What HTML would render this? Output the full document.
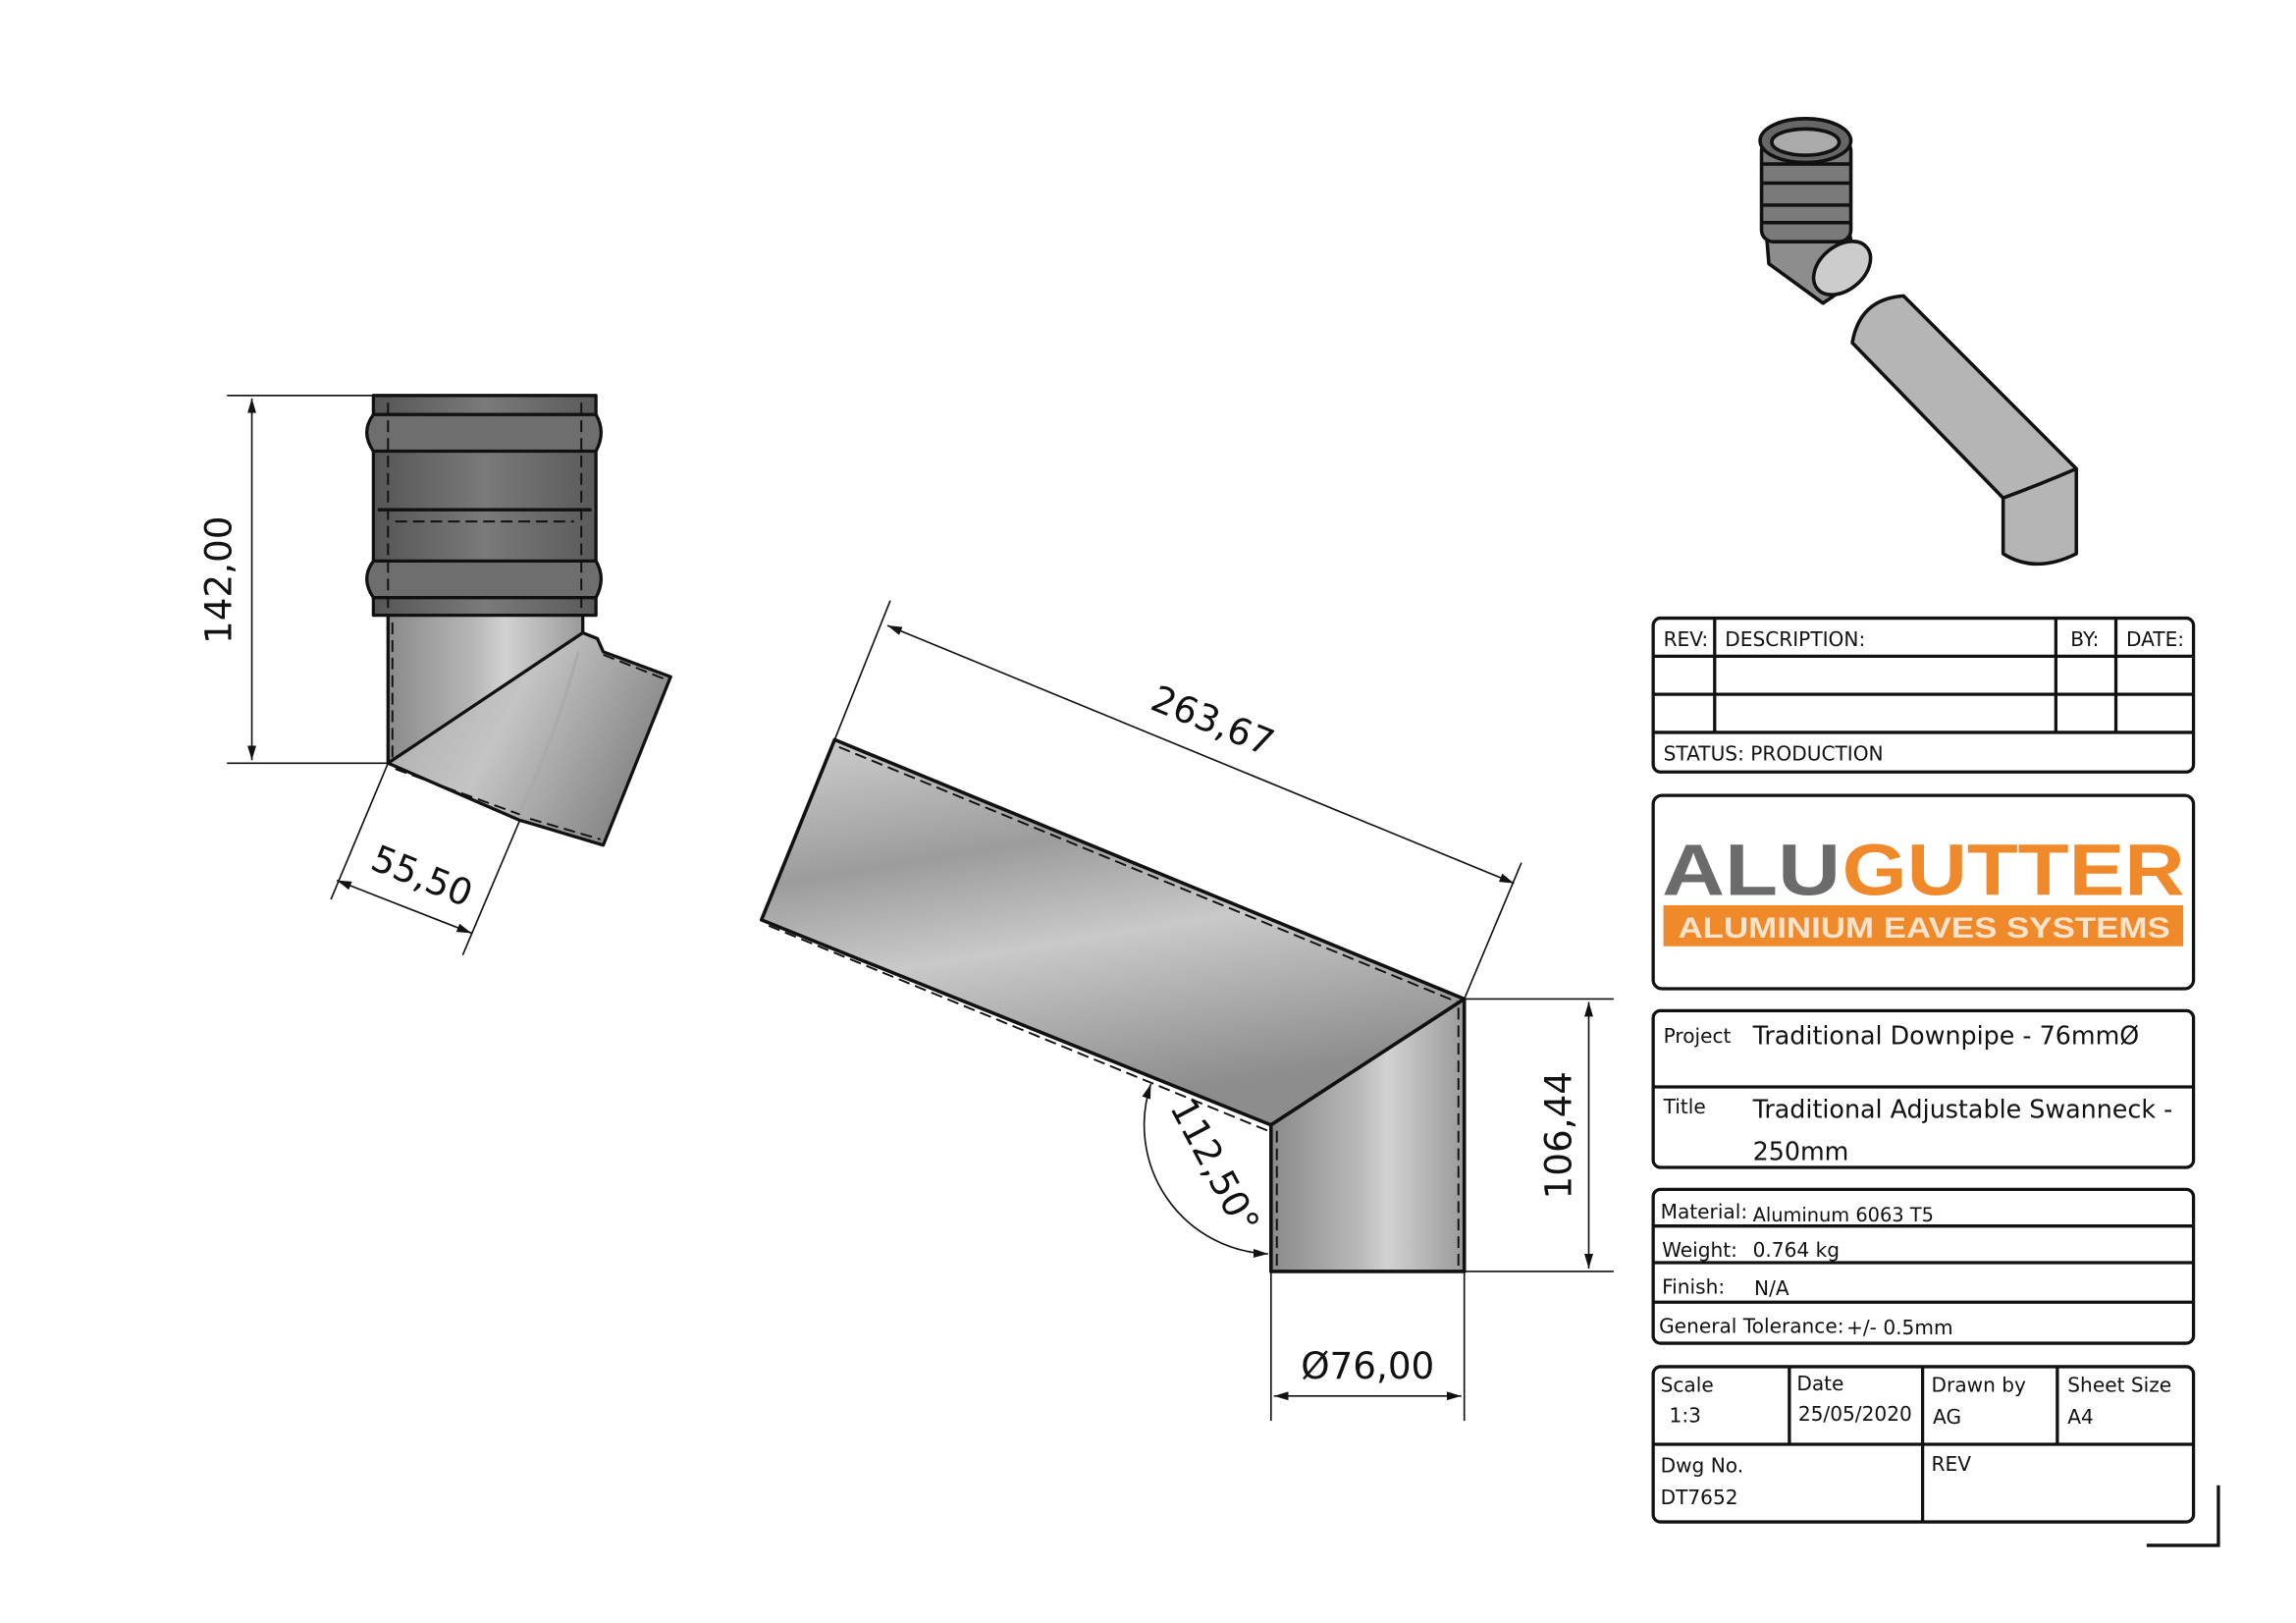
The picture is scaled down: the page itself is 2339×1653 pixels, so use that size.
<!DOCTYPE html>
<html><head><meta charset="utf-8"><style>
html,body{margin:0;padding:0;background:#fff}
svg{display:block}
text{font-family:"DejaVu Sans","Liberation Sans",sans-serif;fill:#111}
</style></head><body>
<svg width="2339" height="1653" viewBox="0 0 1568 1108" preserveAspectRatio="none" xmlns="http://www.w3.org/2000/svg">
<defs>
<linearGradient id="gv" x1="0" x2="1" y1="0" y2="0">
<stop offset="0" stop-color="#8a8a8a"/><stop offset="0.45" stop-color="#b8b8b8"/><stop offset="0.6" stop-color="#d2d2d2"/><stop offset="1" stop-color="#9a9a9a"/></linearGradient>
<linearGradient id="gd" x1="0" x2="1" y1="0" y2="0">
<stop offset="0" stop-color="#555"/><stop offset="0.5" stop-color="#7a7a7a"/><stop offset="1" stop-color="#5a5a5a"/></linearGradient>
<linearGradient id="gp" x1="0" y1="0" x2="0.3" y2="1">
<stop offset="0" stop-color="#cfcfcf"/><stop offset="0.35" stop-color="#9c9c9c"/><stop offset="0.6" stop-color="#c9c9c9"/><stop offset="1" stop-color="#8d8d8d"/></linearGradient>
<linearGradient id="gb" x1="0" y1="0" x2="1" y2="0.4">
<stop offset="0" stop-color="#a8a8a8"/><stop offset="0.5" stop-color="#c4c4c4"/><stop offset="1" stop-color="#888"/></linearGradient>
<marker id="ar" viewBox="0 0 10 6" refX="10" refY="3" markerWidth="10" markerHeight="6" orient="auto-start-reverse" markerUnits="userSpaceOnUse"><path d="M0,0L10,3L0,6z" fill="#111"/></marker>
</defs>

<!-- LEFT VIEW -->
<g stroke="#111" stroke-width="2.2" stroke-linejoin="round">
<rect x="255" y="270" width="152" height="150" fill="url(#gd)"/>
<path d="M255,283 H407 Q414,295 407,308 H255 Q246,295 255,283Z" fill="#6e6e6e"/>
<path d="M255,383 H407 Q414,395 407,408 H255 Q246,395 255,383Z" fill="#6e6e6e"/>
<line x1="258" y1="348" x2="404" y2="348"/>
<rect x="265" y="420" width="133" height="101" fill="url(#gv)"/>
<path d="M265,521 L398,432 L408,436 L412,445 L458,462 L412,577 L362,562 L355,560 Z" fill="url(#gb)"/>
</g>
<g stroke="#111" stroke-width="1.3" fill="none" stroke-dasharray="8,4">
<line x1="268" y1="425" x2="268" y2="518"/>
<line x1="265" y1="275" x2="265" y2="415"/><line x1="397" y1="275" x2="397" y2="415"/>
<line x1="270" y1="356" x2="392" y2="356"/>
<line x1="270" y1="525" x2="355" y2="556"/><line x1="362" y1="559" x2="410" y2="573"/>
<line x1="412" y1="447" x2="455" y2="464"/>
</g>
<path d="M395,445 Q380,500 355,555" stroke="#aaa" stroke-width="2" fill="none"/>
<g stroke="#111" stroke-width="1.1" fill="none">
<line x1="155" y1="270" x2="255" y2="270"/><line x1="155" y1="521" x2="265" y2="521"/>
<line x1="172" y1="272" x2="172" y2="519" marker-start="url(#ar)" marker-end="url(#ar)"/>
<line x1="265" y1="521" x2="226" y2="614"/><line x1="355" y1="560" x2="316" y2="652"/>
<line x1="230" y1="601" x2="322" y2="637" marker-start="url(#ar)" marker-end="url(#ar)"/>
</g>
<text x="158" y="396" font-size="25" transform="rotate(-90 158 396)" text-anchor="middle">142,00</text>
<text x="285" y="606" font-size="25" transform="rotate(22 285 606)" text-anchor="middle">55,50</text>

<!-- MIDDLE VIEW -->
<g stroke="#111" stroke-width="2.4" stroke-linejoin="round">
<polygon points="570,505 1000,682 868,768 520,628" fill="url(#gp)"/>
<polygon points="868,768 1000,682 1000,868 868,868" fill="url(#gv)"/>
</g>
<g stroke="#111" stroke-width="1.3" stroke-dasharray="8,4" fill="none">
<line x1="573" y1="510" x2="995" y2="684"/><line x1="525" y1="632" x2="866" y2="772"/>
<line x1="872" y1="772" x2="872" y2="866"/><line x1="996" y1="688" x2="996" y2="866"/>
</g>
<g stroke="#111" stroke-width="1.1" fill="none">
<line x1="570" y1="505" x2="608" y2="410"/><line x1="1000" y1="682" x2="1039" y2="589"/>
<line x1="606" y1="427" x2="1034" y2="603" marker-start="url(#ar)" marker-end="url(#ar)"/>
<line x1="1000" y1="682" x2="1102" y2="682"/><line x1="1000" y1="868" x2="1102" y2="868"/>
<line x1="1085" y1="684" x2="1085" y2="866" marker-start="url(#ar)" marker-end="url(#ar)"/>
<line x1="868" y1="868" x2="868" y2="970"/><line x1="1000" y1="868" x2="1000" y2="970"/>
<line x1="870" y1="953" x2="998" y2="953" marker-start="url(#ar)" marker-end="url(#ar)"/>
<path d="M786,740 A88,88 0 0 0 866,856" marker-start="url(#ar)" marker-end="url(#ar)"/>
</g>
<text x="825" y="500" font-size="25" transform="rotate(22 825 500)" text-anchor="middle">263,67</text>
<text x="1073" y="775" font-size="25" transform="rotate(-90 1073 775)" text-anchor="middle">106,44</text>
<text x="934" y="941" font-size="25" text-anchor="middle">Ø76,00</text>
<text x="822" y="800" font-size="25" transform="rotate(62 822 800)" text-anchor="middle">112,50°</text>

<!-- ISO VIEW -->
<g stroke="#111" stroke-width="2.4" stroke-linejoin="round">
<path d="M1265,234 Q1270,204 1300,202 L1418,320 L1418,378 Q1390,392 1368,378 L1368,340 Z" fill="#b5b5b5"/>
<path d="M1368,340 Q1395,330 1418,320" fill="none"/>
<path d="M1206,155 L1208,180 L1245,207 L1270,190 L1262,155 Z" fill="#8d8d8d"/>
<rect x="1203" y="95" width="61" height="70" rx="8" fill="#7a7a7a"/>
<line x1="1204" y1="112" x2="1263" y2="112"/><line x1="1204" y1="125" x2="1263" y2="125"/><line x1="1204" y1="140" x2="1263" y2="140"/><line x1="1204" y1="152" x2="1263" y2="152"/>
<ellipse cx="1233" cy="96" rx="31" ry="15" fill="#666"/>
<ellipse cx="1233" cy="97" rx="23" ry="9" fill="#aaa"/>
<ellipse cx="1258" cy="183" rx="22" ry="15" transform="rotate(-40 1258 183)" fill="#ccc"/>
</g>

<!-- TITLE BLOCK -->
<g stroke="#111" stroke-width="2.2" fill="none">
<rect x="1129" y="422" width="369" height="105" rx="5"/>
<line x1="1129" y1="448" x2="1498" y2="448"/><line x1="1129" y1="474" x2="1498" y2="474"/><line x1="1129" y1="500" x2="1498" y2="500"/>
<line x1="1171" y1="422" x2="1171" y2="500"/><line x1="1404" y1="422" x2="1404" y2="500"/><line x1="1445" y1="422" x2="1445" y2="500"/>
<rect x="1129" y="543" width="369" height="132" rx="6"/>
<rect x="1129" y="690" width="369" height="107" rx="5"/>
<line x1="1129" y1="742" x2="1498" y2="742"/>
<rect x="1129" y="812" width="369" height="105" rx="5"/>
<line x1="1129" y1="837" x2="1498" y2="837"/><line x1="1129" y1="862" x2="1498" y2="862"/><line x1="1129" y1="889" x2="1498" y2="889"/>
<rect x="1129" y="933" width="369" height="106" rx="5"/>
<line x1="1129" y1="986" x2="1498" y2="986"/>
<line x1="1222" y1="933" x2="1222" y2="986"/><line x1="1313" y1="933" x2="1313" y2="1039"/><line x1="1405" y1="933" x2="1405" y2="986"/>
<polyline points="1515,1014 1515,1055 1466,1055"/>
</g>
<g font-size="13.5">
<text x="1136" y="441">REV:</text><text x="1178" y="441">DESCRIPTION:</text><text x="1414" y="441">BY:</text><text x="1452" y="441">DATE:</text>
<text x="1136" y="519">STATUS: PRODUCTION</text>
<text x="1136" y="712">Project</text><text x="1197" y="713" font-size="17">Traditional Downpipe - 76mmØ</text>
<text x="1136" y="760">Title</text><text x="1197" y="763" font-size="17">Traditional Adjustable Swanneck -</text><text x="1197" y="792" font-size="17">250mm</text>
<text x="1134" y="832">Material:</text><text x="1197" y="834" font-size="13">Aluminum 6063 T5</text>
<text x="1135" y="858">Weight:</text><text x="1197" y="858">0.764 kg</text>
<text x="1135" y="883">Finish:</text><text x="1198" y="884">N/A</text>
<text x="1133" y="910">General Tolerance:</text><text x="1261" y="911">+/- 0.5mm</text>
<text x="1134" y="950">Scale</text><text x="1140" y="971">1:3</text>
<text x="1227" y="949">Date</text><text x="1228" y="970">25/05/2020</text>
<text x="1319" y="950">Drawn by</text><text x="1320" y="972">AG</text>
<text x="1412" y="950">Sheet Size</text><text x="1412" y="972">A4</text>
<text x="1134" y="1005">Dwg No.</text><text x="1134" y="1027">DT7652</text>
<text x="1319" y="1004">REV</text>
</g>
<!-- LOGO -->
<text x="1135" y="611" font-size="50" font-weight="bold" style="fill:#6b6b6b;font-family:'Liberation Sans',sans-serif" textLength="122" lengthAdjust="spacingAndGlyphs">ALU</text>
<text x="1258" y="611" font-size="50" font-weight="bold" style="fill:#f0892a;font-family:'Liberation Sans',sans-serif" textLength="234" lengthAdjust="spacingAndGlyphs">GUTTER</text>
<rect x="1136" y="618" width="355" height="28" fill="#f0892a"/>
<text x="1146" y="640" font-size="20" font-weight="bold" style="fill:#fbe3cc;font-family:'Liberation Sans',sans-serif" textLength="336" lengthAdjust="spacingAndGlyphs">ALUMINIUM EAVES SYSTEMS</text>
</svg>
</body></html>
